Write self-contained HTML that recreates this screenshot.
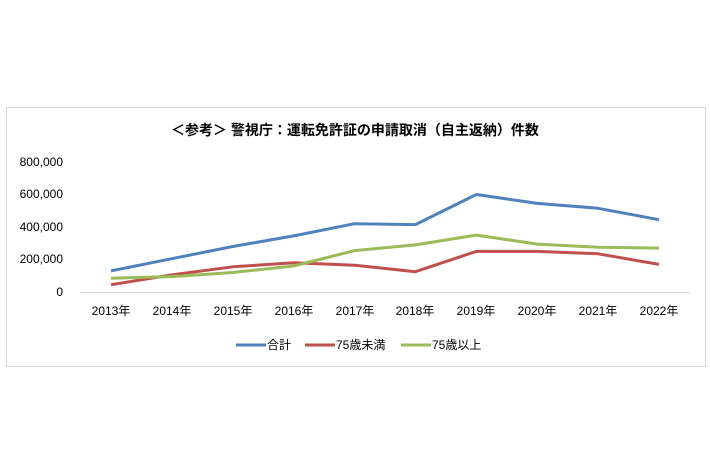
<!DOCTYPE html>
<html><head><meta charset="utf-8"><style>
html,body{margin:0;padding:0;background:#fff;}
svg{display:block;}
text{font-family:"Liberation Sans","Noto Sans CJK JP",sans-serif;fill:#000;}
</style></head><body>
<svg width="710" height="474" viewBox="0 0 710 474" xmlns="http://www.w3.org/2000/svg">
<rect x="6.5" y="107.5" width="699" height="259" fill="#fff" stroke="#d9d9d9" stroke-width="1"/>
<text x="355" y="135" text-anchor="middle" font-size="14" font-weight="bold">＜参考＞ 警視庁：運転免許証の申請取消（自主返納）件数</text>
<g font-size="12" text-anchor="end">
<text x="63" y="166">800,000</text>
<text x="63" y="198">600,000</text>
<text x="63" y="231">400,000</text>
<text x="63" y="263">200,000</text>
<text x="63" y="296">0</text>
</g>
<line x1="80" y1="292.5" x2="690" y2="292.5" stroke="#d9d9d9" stroke-width="1"/>
<g font-size="12" text-anchor="middle">
<text x="111" y="315">2013年</text><text x="172" y="315">2014年</text><text x="233" y="315">2015年</text><text x="294" y="315">2016年</text><text x="355" y="315">2017年</text><text x="415" y="315">2018年</text><text x="476" y="315">2019年</text><text x="537" y="315">2020年</text><text x="598" y="315">2021年</text><text x="659" y="315">2022年</text>
</g>
<g fill="none" stroke-width="3" stroke-linejoin="round">
<polyline stroke="#4f81bd" points="111,270.9 171.9,258.7 232.8,246.5 293.7,235.9 354.6,223.7 415.4,224.6 476.3,194.5 537.2,203.4 598.1,208.3 659,219.7"/>
<polyline stroke="#c0504d" points="111,284.7 171.9,274.9 232.8,266.8 293.7,262.8 354.6,265.2 415.4,271.7 476.3,251.4 537.2,251.4 598.1,253.8 659,264.4"/>
<polyline stroke="#9bbb59" points="111,278.2 171.9,276.6 232.8,272.5 293.7,266 354.6,250.6 415.4,244.9 476.3,235.1 537.2,244.1 598.1,247.3 659,248.1"/>
</g>
<g stroke-width="3">
<line x1="236" y1="345" x2="266" y2="345" stroke="#4f81bd"/>
<line x1="305" y1="345" x2="335" y2="345" stroke="#c0504d"/>
<line x1="401" y1="345" x2="431" y2="345" stroke="#9bbb59"/>
</g>
<g font-size="12">
<text x="267" y="349">合計</text>
<text x="336" y="349">75歳未満</text>
<text x="432" y="349">75歳以上</text>
</g>
</svg>
</body></html>
